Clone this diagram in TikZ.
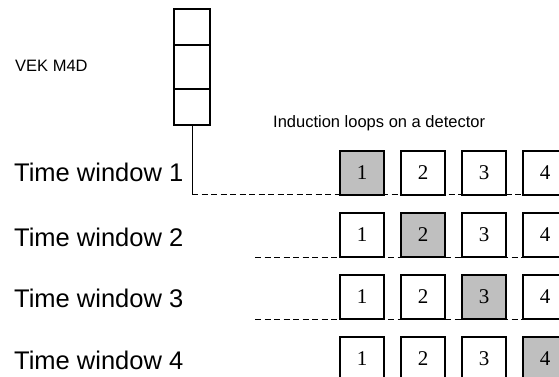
\documentclass[tikz,border=0pt]{standalone}
\usepackage{fontspec}
\setmainfont{Liberation Serif}
\setsansfont{Liberation Sans}
\usetikzlibrary{positioning}

\begin{document}
\begin{tikzpicture}[
    x=1pt, y=-1pt,
    loop box/.style={rectangle, draw, fill=white, line width=1.2pt, minimum size=44pt, inner sep=0pt, outer sep=0pt, font=\fontsize{21}{21}\selectfont},
    busy box/.style={loop box, fill=black!25},
    cell/.style={rectangle, draw, line width=1.1pt, minimum width=36pt, inner sep=0pt, outer sep=0pt},
    window text/.style={anchor=base west, inner sep=0pt, font=\fontsize{25.5}{25.5}\sffamily},
    small text/.style={anchor=base west, inner sep=0pt, font=\fontsize{16.5}{16.5}\sffamily},
    lane/.style={draw, line width=1pt, dash pattern=on 6pt off 3.5pt}
]
    \useasboundingbox (0,0) rectangle (559,376);

    % the VEK M4D stack
    \node[cell, minimum height=36pt] (vek-1) at (192,27) {};
    \node[cell, minimum height=44pt, below=0pt of vek-1] (vek-2) {};
    \node[cell, minimum height=36pt, below=0pt of vek-2] (vek-3) {};
    \node[small text] (vek) at (15,71) {VEK M4D};
    \node[small text] (title) at (273,127) {Induction loops on a detector};

    % row captions
    \foreach \r/\yb in {1/181, 2/246, 3/307, 4/369} {
        \node[window text] (win-\r) at (14,\yb) {Time window \r};
    }

    % dashed lanes under the first three rows
    \coordinate (corner) at (vek-3.south |- 0,194);
    \coordinate (lane-1) at (559,194);
    \coordinate (start-2) at (255,257);
    \coordinate (lane-2) at (559,257);
    \coordinate (start-3) at (255,319);
    \coordinate (lane-3) at (559,319);
    \draw[line width=1pt] (vek-3.south) -- (corner);
    \draw[lane] (corner) -- (lane-1);
    \draw[lane] (start-2) -- (lane-2);
    \draw[lane] (start-3) -- (lane-3);

    % loops, the active one shaded
    \foreach \r in {1,...,4} {
        \foreach \c in {1,...,4} {
            \ifnum \r=\c
                \node[busy box] (loop-\r-\c) at ({340+22+(\c-1)*61}, {151+22+(\r-1)*62}) {\c};
            \else
                \node[loop box] (loop-\r-\c) at ({340+22+(\c-1)*61}, {151+22+(\r-1)*62}) {\c};
            \fi
        }
    }

\end{tikzpicture}
\end{document}
